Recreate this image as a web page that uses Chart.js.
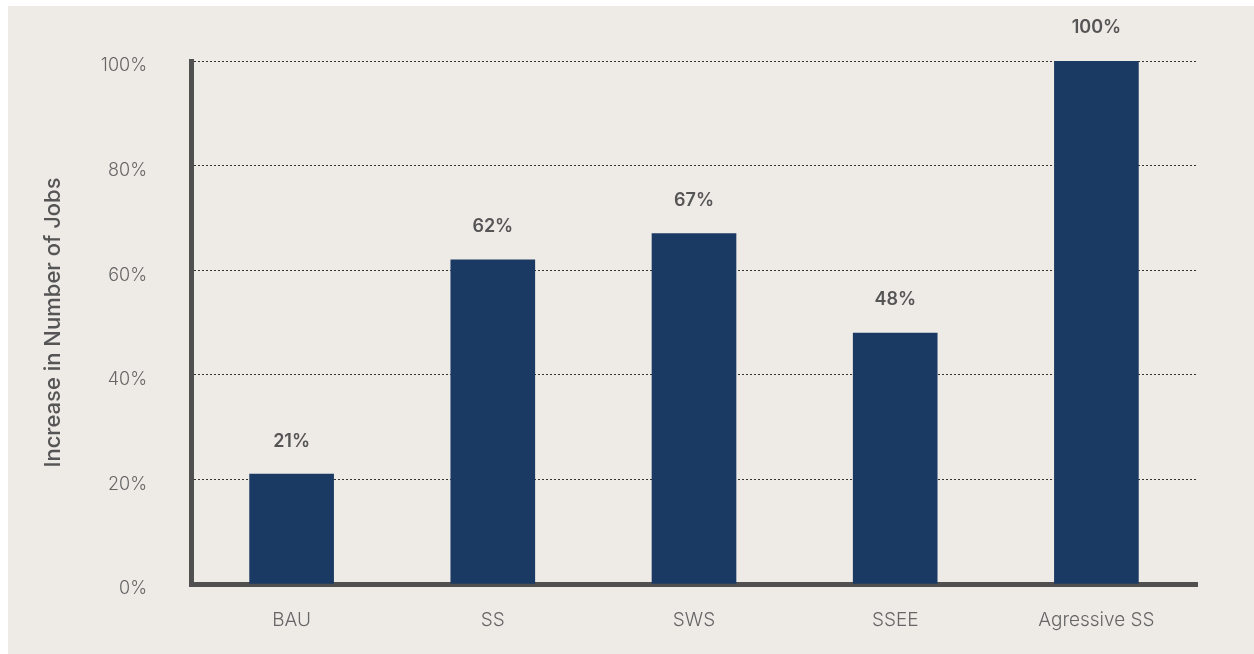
<!DOCTYPE html>
<html>
<head>
<meta charset="utf-8">
<script src="https://cdn.jsdelivr.net/npm/chart.js@4.4.0/dist/chart.umd.min.js"></script>
<style>
  body { margin: 0; background: #ffffff; }
  #wrap { position: absolute; left: 8px; top: 6px; }
  canvas { background: #eeebe7; display: block; }
</style>
</head>
<body>
<div id="wrap"><canvas id="barChart" width="1246" height="648"></canvas></div>
<script>
const categories = ['BAU', 'SS', 'SWS', 'SSEE', 'Agressive SS'];
const jobIncrease = [21, 62, 67, 48, 100];
const yTicks = [0, 20, 40, 60, 80, 100];

const textGrey = '#555555';
const fontFamily = 'Inter, "Open Sans", sans-serif';

// value labels above each bar
const valueLabels = {
  id: 'valueLabels',
  afterDatasetsDraw(chart) {
    const ctx = chart.ctx;
    const meta = chart.getDatasetMeta(0);
    ctx.save();
    ctx.fillStyle = textGrey;
    ctx.font = '600 18px ' + fontFamily;
    ctx.textAlign = 'center';
    ctx.textBaseline = 'middle';
    meta.data.forEach((bar, i) => {
      ctx.fillText(jobIncrease[i] + '%', bar.x, bar.y - 33);
    });
    ctx.restore();
  }
};

const ctx = document.getElementById('barChart').getContext('2d');

new Chart(ctx, {
  type: 'bar',
  data: {
    labels: categories,
    datasets: [{
      label: 'Increase in Number of Jobs',
      data: jobIncrease,
      backgroundColor: '#1b3a63',
      barThickness: 84
    }]
  },
  plugins: [valueLabels],
  options: {
    responsive: false,
    animation: false,
    layout: { padding: { top: 55, right: 57, left: 0, bottom: 0 } },
    plugins: {
      legend: { display: false },
      tooltip: { enabled: false }
    },
    scales: {
      x: {
        grid: { display: false },
        border: { display: true, color: '#505050', width: 5 },
        ticks: {
          color: '#666666',
          padding: 17,
          font: { family: fontFamily, size: 19, weight: '300' }
        },
        afterFit(scale) { scale.height = 70; }
      },
      y: {
        min: 0,
        max: 100,
        afterBuildTicks(scale) { scale.ticks = yTicks.map(v => ({ value: v })); },
        grid: { color: '#333333', lineWidth: 1, drawTicks: false },
        border: { display: true, color: '#505050', width: 5, dash: [2, 2] },
        ticks: {
          color: '#666666',
          padding: 44,
          labelOffset: 5,
          font: { family: fontFamily, size: 18, weight: '300' },
          callback: (v) => v + '%'
        },
        title: {
          display: true,
          text: 'Increase in Number of Jobs',
          color: textGrey,
          padding: { top: 32 },
          font: { family: fontFamily, size: 22, weight: '500' }
        },
        afterFit(scale) { scale.width = 183; }
      }
    }
  }
});
</script>
</body>
</html>
